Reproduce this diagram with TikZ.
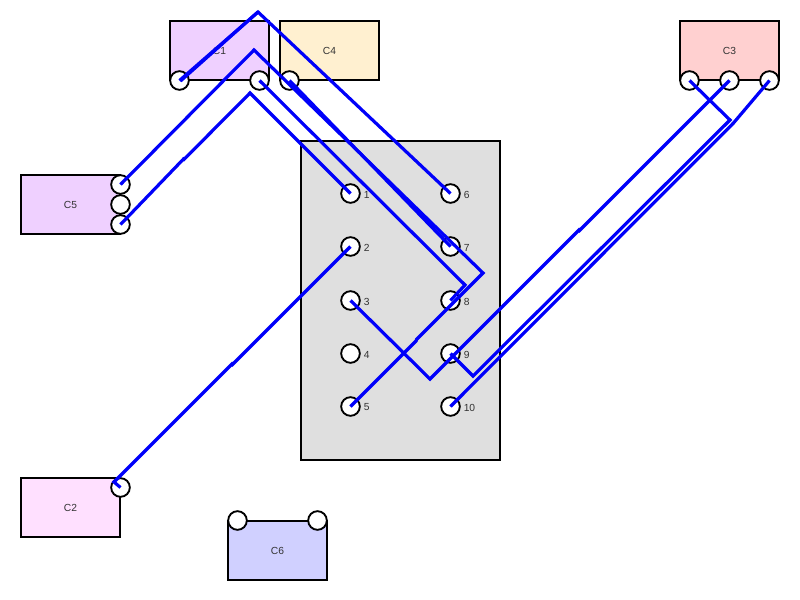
\documentclass[tikz,border=0pt]{standalone}
\usepackage{fontspec}
\setmainfont{Liberation Sans}
\definecolor{wireblue}{HTML}{0000FA}
\newcommand{\cname}[1]{\raisebox{-0.7pt}{#1}}
\tikzset{
  comp/.style={draw=black,line width=1.4pt,minimum width=74.25pt,minimum height=44.25pt,inner sep=0pt,font=\fontsize{7.7}{9}\selectfont,text=black!80},
  pin/.style={circle,draw=black,fill=white,line width=1.4pt,minimum size=14pt,inner sep=0pt},
  lab/.style={anchor=west,inner sep=0pt,font=\fontsize{7.7}{9}\selectfont,text=black!80},
  wire/.style={draw=wireblue,line width=2.4pt,line join=miter}
}
\begin{document}
\begin{tikzpicture}[x=0.75pt,y=-0.75pt]
\useasboundingbox (0,0) rectangle (800,600);
\node[comp,fill=black!12.5,minimum width=149.25pt,minimum height=239.25pt] (main) at (400.5,300.5) {};
\node[comp,fill={rgb,255:red,239;green,208;blue,255}] (c1) at (219.5,50.5) {\cname{C1}};
\node[comp,fill={rgb,255:red,255;green,240;blue,208}] (c4) at (329.5,50.5) {\cname{C4}};
\node[comp,fill={rgb,255:red,255;green,208;blue,208}] (c3) at (729.5,50.5) {\cname{C3}};
\node[comp,fill={rgb,255:red,239;green,208;blue,255}] (c5) at (70.5,204.5) {\cname{C5}};
\node[comp,fill={rgb,255:red,255;green,224;blue,255}] (c2) at (70.5,507.5) {\cname{C2}};
\node[comp,fill={rgb,255:red,208;green,208;blue,255}] (c6) at (277.5,550.5) {\cname{C6}};
% component pins
\node[pin] (c1a) at (179.5,80.5) {};
\node[pin] (c1b) at (259.5,80.5) {};
\node[pin] (c4a) at (289.5,80.5) {};
\node[pin] (c3a) at (689.5,80.5) {};
\node[pin] (c3b) at (729.5,80.5) {};
\node[pin] (c3c) at (769.5,80.5) {};
\node[pin] (c5a) at (120.5,184.5) {};
\node[pin] (c5b) at (120.5,204.5) {};
\node[pin] (c5c) at (120.5,224.5) {};
\node[pin] (c2a) at (120.5,487.5) {};
\node[pin] (c6a) at (237.5,520.5) {};
\node[pin] (c6b) at (317.5,520.5) {};
% main pins
\node[pin] (p1) at (350.5,193.5) {};
\node[pin] (p2) at (350.5,246.5) {};
\node[pin] (p3) at (350.5,300.5) {};
\node[pin] (p4) at (350.5,353.5) {};
\node[pin] (p5) at (350.5,406.5) {};
\node[pin] (p6) at (450.5,193.5) {};
\node[pin] (p7) at (450.5,246.5) {};
\node[pin] (p8) at (450.5,300.5) {};
\node[pin] (p9) at (450.5,353.5) {};
\node[pin] (p10) at (450.5,406.5) {};
\node[lab] (l1) at (363.5,194.5) {1};
\node[lab] (l2) at (363.5,247.5) {2};
\node[lab] (l3) at (363.5,301.5) {3};
\node[lab] (l4) at (363.5,354.5) {4};
\node[lab] (l5) at (363.5,407.5) {5};
\node[lab] (l6) at (463.5,194.5) {6};
\node[lab] (l7) at (463.5,247.5) {7};
\node[lab] (l8) at (463.5,301.5) {8};
\node[lab] (l9) at (463.5,354.5) {9};
\node[lab] (l10) at (463.5,407.5) {10};
% routing corners
\coordinate (k0) at (180.5,81);
\coordinate (k1) at (258,12);
\coordinate (k2) at (254,50);
\coordinate (k3) at (250,93);
\coordinate (k4) at (483,273);
\coordinate (k5) at (465,285);
\coordinate (k6) at (430,379);
\coordinate (k7) at (473,376);
\coordinate (k8) at (730,120);
\coordinate (k9) at (114,482);
\coordinate (k10) at (733.5,123);
\coordinate (j1a) at (183.5,159);
\coordinate (j1b) at (184,159.4);
\coordinate (j2a) at (232,364);
\coordinate (j2b) at (232.5,364.5);
\coordinate (j3a) at (579,230);
\coordinate (j3b) at (579.5,230.5);
\coordinate (j5a) at (416.2,340.8);
\coordinate (j5b) at (416.5,339.5);
% wires
\draw[wire] (c1a.center) -- (k1) -- (p6.center);
\draw[wire] (k0) -- (k1);
\draw[wire] (c5a.center) -- (k2) -- (k4) -- (j5b) -- (j5a) -- (p5.center);
\draw[wire] (c5c.center) -- (j1a) -- (j1b) -- (k3) -- (p1.center);
\draw[wire] (c1b.center) -- (k5) -- (p8.center);
\draw[wire] (c4a.center) -- (p7.center);
\draw[wire] (p3.center) -- (k6) -- (j3a) -- (j3b) -- (c3b.center);
\draw[wire] (p9.center) -- (k7) -- (k8) -- (c3a.center);
\draw[wire] (p10.center) -- (k10) -- (c3c.center);
\draw[wire] (c2a.center) -- (k9) -- (j2a) -- (j2b) -- (p2.center);
\end{tikzpicture}
\end{document}
